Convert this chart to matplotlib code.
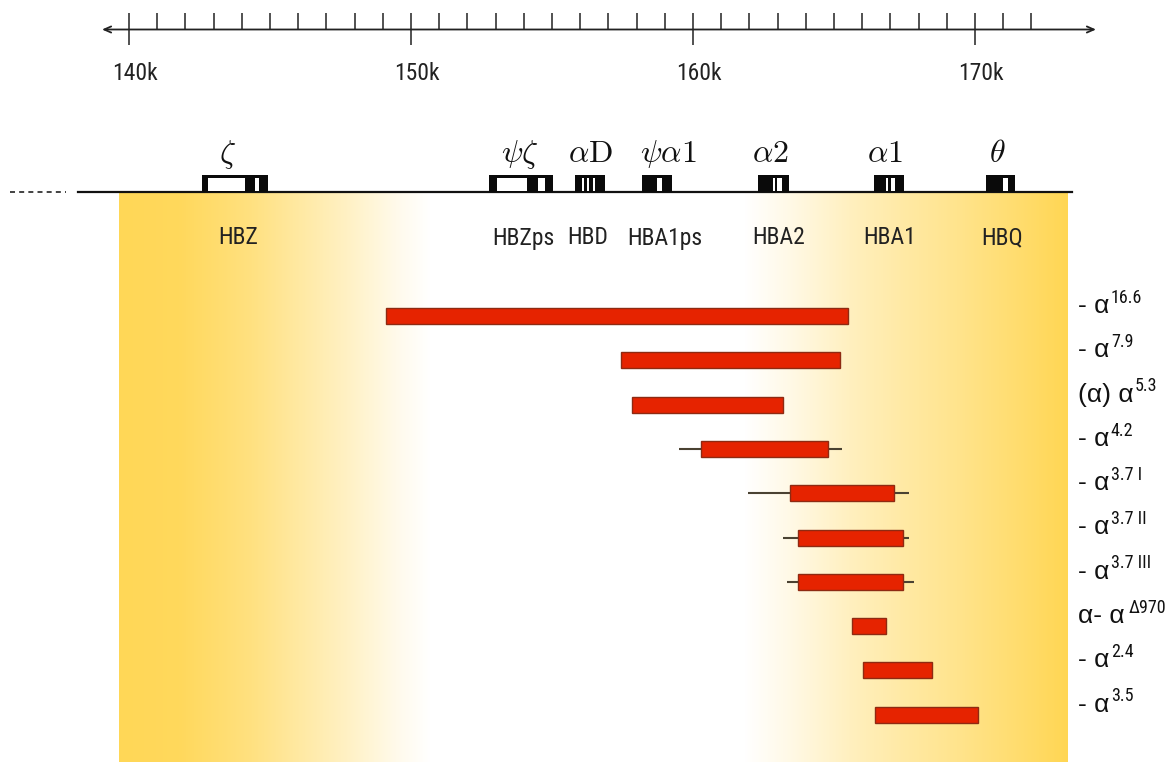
import numpy as np
import matplotlib
matplotlib.use("Agg")
import matplotlib.pyplot as plt
from matplotlib.patches import Rectangle
from matplotlib import font_manager as fm

# ---------------- data ----------------
ruler_major = [140, 150, 160, 170]
ruler_minor = list(range(140, 173))
ruler_labels = ["140k", "150k", "160k", "170k"]

gene_symbols = [r"$\zeta$", r"$\psi\zeta$", r"$\alpha\mathrm{D}$", r"$\psi\alpha1$",
                r"$\alpha2$", r"$\alpha1$", r"$\theta$"]
gene_names = ["HBZ", "HBZps", "HBD", "HBA1ps", "HBA2", "HBA1", "HBQ"]
gene_start = [142.59, 152.77, 155.82, 158.19, 162.30, 166.42, 170.39]
gene_end = [144.93, 155.04, 156.88, 159.26, 163.40, 167.48, 171.42]
# white (intron / UTR) windows inside each gene box, as fractions of gene length
gene_gaps = [
    [(0.09, 0.65), (0.80, 0.86)],
    [(0.125, 0.59), (0.77, 0.875)],
    [(0.23, 0.30), (0.40, 0.47), (0.60, 0.66)],
    [(0.50, 0.67)],
    [(0.48, 0.55), (0.61, 0.77)],
    [(0.40, 0.47), (0.57, 0.70)],
    [(0.59, 0.76)],
]

deletion_main = ["- α", "- α", "(α) α", "- α", "- α", "- α", "- α", "α- α", "- α", "- α"]
deletion_sup = ["16.6", "7.9", "5.3", "4.2", "3.7 I", "3.7 II", "3.7 III", "Δ970", "2.4", "3.5"]
del_start = [149.11, 157.45, 157.84, 160.28, 163.44, 163.72, 163.72, 165.64, 166.03, 166.45]
del_end = [165.50, 165.21, 163.19, 164.79, 167.13, 167.45, 167.45, 166.84, 168.48, 170.11]
flank_start = [None, None, None, 159.50, 161.95, 163.19, 163.33, None, None, None]
flank_end = [None, None, None, 165.28, 167.66, 167.66, 167.84, None, None, None]

# ---------------- font choice (narrow sans if available) ----------------
def pick_font():
    tries = [("Liberation Sans Narrow", "normal"), ("Arial Narrow", "normal"),
             ("DejaVu Sans Condensed", "normal"), ("Roboto Condensed", "normal"),
             ("Open Sans Condensed", "normal"), ("Noto Sans", "condensed"),
             ("DejaVu Sans", "condensed"), ("Roboto", "normal"),
             ("Liberation Sans", "normal")]
    for fam, st in tries:
        try:
            path = fm.findfont(fm.FontProperties(family=fam, stretch=st),
                               fallback_to_default=False)
        except Exception:
            continue
        name = fm.FontProperties(fname=path).get_name()
        low = path.lower()
        if st == "condensed" and not ("condens" in low or "narrow" in low):
            continue
        return name, path
    return "DejaVu Sans", None

NARROW_NAME, NARROW_PATH = pick_font()
NARROW = [NARROW_NAME, "DejaVu Sans"]
ALPHA_FONT = ["Liberation Sans", "DejaVu Sans"]
narrow_is_condensed = NARROW_PATH is not None and (
    "condens" in NARROW_PATH.lower() or "narrow" in NARROW_PATH.lower())
SIZE_SCALE = 1.0 if narrow_is_condensed else 0.85

# ---------------- layout helpers ----------------
PX_PER_KB = 28.2
def kb(px):
    return 140 + (px - 129) / PX_PER_KB
def dk(px):
    return px / PX_PER_KB

sym_dx = [-7, -1, 0, 11, -3, -4, -3]
name_dx = [3, 2, -2, 8, 5, 1, 2]
sup_gap = [1, 1, 1, 1, 1, 1, 1, 3, 1, 1]

fig = plt.figure(figsize=(11.69, 7.62), dpi=100)
ax = fig.add_axes([0, 0, 1, 1])
ax.set_xlim(kb(0), kb(1169))
ax.set_ylim(762, 0)
ax.axis("off")

# ---------------- background gradient ----------------
gx0, gx1 = 119, 1068
cols = np.arange(gx0, gx1 + 1)
prof_px = [119, 180, 250, 300, 350, 400, 430, 745, 790, 850, 900, 960, 1020, 1068]
prof_t = [0.95, 0.92, 0.72, 0.52, 0.32, 0.1, 0.0, 0.0, 0.14, 0.36, 0.5, 0.65, 0.82, 0.97]
t = np.interp(cols, prof_px, prof_t)
yellow = np.array([255, 213, 78]) / 255.0
white = np.array([1.0, 1.0, 1.0])
row = white[None, :] * (1 - t[:, None]) + yellow[None, :] * t[:, None]
img = np.repeat(row[None, :, :], 4, axis=0)
ax.imshow(img, extent=[kb(gx0), kb(gx1), 762, 193], aspect="auto",
          interpolation="bilinear", zorder=0)

# ---------------- ruler ----------------
RY = 29.5
ax.annotate("", xy=(kb(1096), RY), xytext=(kb(102), RY),
            arrowprops=dict(arrowstyle="<->,head_length=0.5,head_width=0.22",
                            color="#222222", lw=1.3, shrinkA=0, shrinkB=0), zorder=3)
minor = [m for m in ruler_minor if m not in ruler_major]
ax.vlines(minor, 13, RY, color="#222222", lw=1.1, zorder=3)
ax.vlines(ruler_major, 13, 45, color="#222222", lw=1.1, zorder=3)
for k, lab in zip(ruler_major, ruler_labels):
    ax.text(k + 0.2, 73, lab, ha="center", va="center", fontsize=17 * SIZE_SCALE,
            family=NARROW, color="#222222")

# ---------------- chromosome line & genes ----------------
LY = 192
ax.plot([kb(10), kb(66)], [LY, LY], color="#222222", lw=1.2, ls=(0, (3, 2.5)), zorder=3)
ax.plot([kb(78), kb(1072)], [LY, LY], color="#111111", lw=1.6, zorder=3)
BOX_TOP = 175
for s, e, gaps, sym, name, sdx, ndx in zip(gene_start, gene_end, gene_gaps, gene_symbols,
                                           gene_names, sym_dx, name_dx):
    ax.add_patch(Rectangle((s, BOX_TOP), e - s, LY - BOX_TOP, facecolor="#0a0a0a",
                           edgecolor="none", zorder=4))
    L = e - s
    for a, b in gaps:
        ax.add_patch(Rectangle((s + a * L, BOX_TOP + 3), (b - a) * L, LY - BOX_TOP - 4,
                               facecolor="white", edgecolor="none", zorder=5))
    c = (s + e) / 2
    ax.text(c + dk(sdx), 162, sym, ha="center", va="baseline", fontsize=23,
            math_fontfamily="cm", color="#111111", zorder=6)
    ax.text(c + dk(ndx), 238, name, ha="center", va="center", fontsize=17 * SIZE_SCALE,
            family=NARROW, color="#222222", zorder=6)

# ---------------- deletions ----------------
ROW0, ROW_STEP = 316, 44.3
row_y = [ROW0 + i * ROW_STEP for i in range(len(deletion_main))]
for y, fs, fe in zip(row_y, flank_start, flank_end):
    if fs is not None:
        ax.plot([fs, fe], [y, y], color="#4a4232", lw=1.5, zorder=6,
                solid_capstyle="butt")
ax.barh(row_y, np.array(del_end) - np.array(del_start), left=del_start, height=16,
        color="#E62300", edgecolor="#8E2A12", linewidth=1.0, zorder=7)
for y, lab, sup, gap in zip(row_y, deletion_main, deletion_sup, sup_gap):
    main = ax.text(kb(1078), y - 3, lab, ha="left", va="baseline", fontsize=19,
                   family=ALPHA_FONT, color="#111111", zorder=8)
    ax.annotate(sup, xy=(1.0, 0.64), xycoords=main, xytext=(gap, 0),
                textcoords="offset points", ha="left", va="baseline",
                fontsize=13 * SIZE_SCALE, family=NARROW, color="#111111", zorder=8)

fig.savefig("out.png", dpi=100)
